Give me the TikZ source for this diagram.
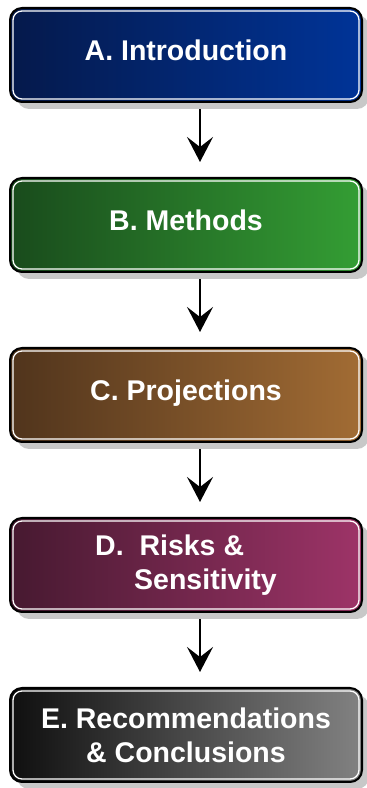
\documentclass[tikz,border=0pt]{standalone}
\usepackage{fontspec}
\setmainfont{Liberation Sans}
\usepackage{tikz}
\usetikzlibrary{shadows,arrows.meta,backgrounds}
\definecolor{introL}{RGB}{5, 25, 75}
\definecolor{introR}{RGB}{0, 52, 152}
\definecolor{methL}{RGB}{25, 75, 28}
\definecolor{methR}{RGB}{52, 158, 52}
\definecolor{projL}{RGB}{80, 52, 28}
\definecolor{projR}{RGB}{162, 108, 52}
\definecolor{riskL}{RGB}{70, 25, 48}
\definecolor{riskR}{RGB}{158, 52, 104}
\definecolor{concL}{RGB}{15, 15, 15}
\definecolor{concR}{RGB}{130, 130, 130}
\definecolor{shadowgray}{RGB}{200, 200, 200}

\tikzset{
  phase/.style={draw=black, line width=2pt, rounded corners=12pt,
    minimum width=352pt, minimum height=94pt, inner sep=0pt,
    text=white, align=center, font=\fontsize{28.5}{34}\selectfont\bfseries,
    drop shadow={shadow xshift=7pt, shadow yshift=-7pt, fill=shadowgray, opacity=1}},
  oneline/.style={text height=21pt, text depth=9pt},
  rim/.style={draw=white, line width=1.3pt, rounded corners=9pt},
  flow/.style={line width=2pt, -{Stealth[length=25pt, width=26pt, inset=10pt]}}
}

\begin{document}
\begin{tikzpicture}[x=1pt, y=1pt]
    \useasboundingbox (0,0) rectangle (367,788);
    % report sections
    \node[phase, oneline, left color=introL, right color=introR] (A) at (186,733) {A. Introduction};
    \node[phase, oneline, left color=methL, right color=methR] (B) at (186,563) {B. Methods};
    \node[phase, oneline, left color=projL, right color=projR] (C) at (186,393) {C. Projections};
    \node[phase, align=left, left color=riskL, right color=riskR] (D) at (186,223)
      {D.\ \ Risks \&\\\hspace*{39pt}Sensitivity};
    \node[phase, left color=concL, right color=concR] (E) at (186,53)
      {E. Recommendations\\\& Conclusions};
    \foreach \n in {A,B,C,D,E}
      \draw[rim] ([shift={(4pt,4pt)}]\n.south west) rectangle ([shift={(-4pt,-4pt)}]\n.north east);
    % arrows between sections
    \begin{scope}[on background layer]
      \foreach \a/\b in {A/B,B/C,C/D,D/E}
        \draw[flow] ([xshift=14pt]\a.south) -- ([xshift=14pt, yshift=15pt]\b.north);
    \end{scope}
  \end{tikzpicture}
\end{document}
